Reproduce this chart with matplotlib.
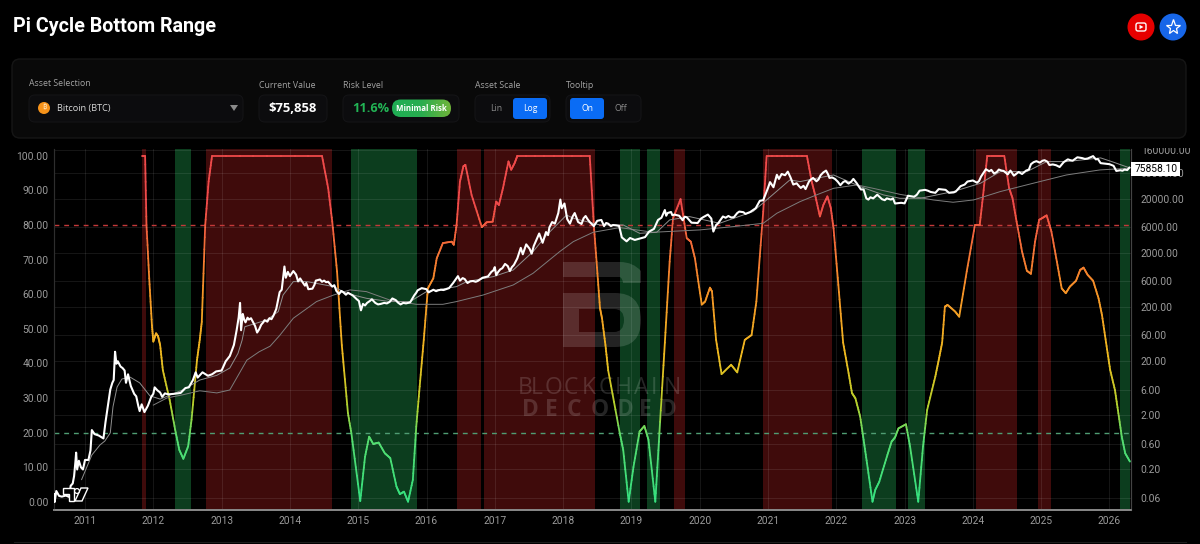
import matplotlib
matplotlib.use("Agg")
import matplotlib.pyplot as plt
import numpy as np
from matplotlib.collections import LineCollection
from matplotlib.colors import LinearSegmentedColormap
from matplotlib.patches import Circle, FancyBboxPatch, PathPatch, Polygon, Rectangle
from matplotlib.path import Path

plt.rcParams["font.family"] = ["Open Sans", "DejaVu Sans"]

YEAR_TICKS = list(range(2011, 2027))
RISK_TICKS = list(range(0, 101, 10))
PRICE_TICKS = [0.06, 0.2, 0.6, 2, 6, 20, 60, 200, 600, 2000, 6000, 20000, 60000, 160000]

RED_BANDS = [
    (2011.83, 2011.90), (2012.77, 2014.62), (2016.44, 2016.80), (2016.84, 2018.46),
    (2019.62, 2019.79), (2020.93, 2021.94), (2024.04, 2024.64), (2024.96, 2025.14),
]
GREEN_BANDS = [
    (2012.32, 2012.55), (2014.89, 2015.86), (2018.83, 2019.13), (2019.23, 2019.42),
    (2022.37, 2022.88), (2023.05, 2023.30), (2026.16, 2026.30),
]

# (year, risk %)
RISK = [
    (2011.83, 100), (2011.88, 100), (2011.90, 80), (2011.94, 64.6), (2011.98, 51), (2012.00, 46.3),
    (2012.04, 48.7), (2012.07, 47.8), (2012.10, 45.3), (2012.14, 38), (2012.24, 29.4), (2012.32, 20.8),
    (2012.38, 15), (2012.44, 12.4), (2012.51, 16), (2012.56, 23.7), (2012.64, 41), (2012.68, 46.8),
    (2012.71, 52), (2012.76, 80), (2012.81, 92.6), (2012.86, 100), (2014.47, 100), (2014.56, 90.7),
    (2014.62, 81), (2014.69, 66.6), (2014.76, 45.3), (2014.85, 25.6), (2014.90, 19.8), (2015.03, 0.2),
    (2015.10, 13), (2015.16, 18.8), (2015.22, 16.7), (2015.30, 17.1), (2015.39, 14), (2015.47, 12.6),
    (2015.56, 4.4), (2015.61, 2.2), (2015.67, 2.9), (2015.73, 0), (2015.80, 6.3), (2015.85, 21.7),
    (2015.90, 33.3), (2015.96, 46.8), (2016.02, 61.7), (2016.10, 64.6), (2016.15, 70.4), (2016.24, 74.8),
    (2016.37, 75.2), (2016.40, 74.3), (2016.44, 80), (2016.49, 92.6), (2016.54, 97), (2016.57, 97.4),
    (2016.66, 88.7), (2016.81, 79.4), (2016.88, 80.8), (2016.97, 81), (2017.02, 86.8), (2017.06, 85.8),
    (2017.12, 90.7), (2017.20, 98.4), (2017.24, 96), (2017.29, 97.9), (2017.33, 100), (2018.39, 100),
    (2018.45, 80), (2018.49, 69.4), (2018.54, 56), (2018.57, 53), (2018.62, 45.3), (2018.66, 38),
    (2018.83, 19.8), (2018.88, 15), (2018.96, 0), (2019.03, 10), (2019.12, 20.3), (2019.19, 21.9),
    (2019.25, 17.9), (2019.35, 0), (2019.41, 19.8), (2019.49, 46), (2019.56, 69.4), (2019.61, 82),
    (2019.72, 87.5), (2019.81, 76.2), (2019.87, 75.2), (2019.93, 70.4), (2020.03, 57), (2020.08, 57.9),
    (2020.15, 61.9), (2020.18, 60.8), (2020.24, 46.8), (2020.32, 36.9), (2020.46, 39.6), (2020.55, 37.4),
    (2020.66, 46.8), (2020.76, 48.2), (2020.83, 57.9), (2020.93, 83.9), (2020.98, 100), (2021.57, 100),
    (2021.64, 92.6), (2021.69, 88.7), (2021.76, 82.5), (2021.81, 85.8), (2021.87, 88.3), (2021.92, 84.9),
    (2021.96, 79), (2022.03, 62.7), (2022.10, 46), (2022.18, 37.2), (2022.23, 31.4), (2022.28, 29.9),
    (2022.35, 24.6), (2022.40, 17.9), (2022.45, 11.1), (2022.53, 0), (2022.57, 3.4), (2022.63, 5.8),
    (2022.74, 13), (2022.81, 17.4), (2022.86, 18.6), (2022.91, 21.2), (2023.02, 22.4), (2023.08, 16),
    (2023.20, 0), (2023.27, 16), (2023.33, 26.5), (2023.45, 36.2), (2023.50, 41), (2023.55, 46),
    (2023.59, 56.4), (2023.63, 56.9), (2023.74, 55), (2023.80, 53.5), (2023.91, 66.6), (2024.03, 80),
    (2024.10, 80), (2024.15, 88.7), (2024.21, 100), (2024.46, 100), (2024.53, 90.7), (2024.58, 87.8),
    (2024.64, 81), (2024.72, 72.3), (2024.79, 66.8), (2024.85, 65.9), (2024.91, 75.2), (2024.97, 81.5),
    (2025.03, 82.2), (2025.08, 82.8), (2025.15, 78.1), (2025.23, 69.4), (2025.30, 61.7), (2025.36, 60.3),
    (2025.42, 62.2), (2025.51, 63.9), (2025.57, 67), (2025.62, 67.7), (2025.68, 65.6), (2025.76, 63.9),
    (2025.84, 58.8), (2025.89, 54), (2025.95, 46), (2026.01, 38.1), (2026.08, 32.3), (2026.13, 25.6),
    (2026.18, 18.8), (2026.23, 14), (2026.30, 11.6),
]

# (year, USD)
PRICE = [
    (2010.55, 0.07), (2010.555, 0.05), (2010.58, 0.08), (2010.62, 0.065), (2010.66, 0.063), (2010.72, 0.066),
    (2010.77, 0.062), (2010.79, 0.1), (2010.82, 0.11), (2010.84, 0.15), (2010.86, 0.28), (2010.87, 0.41),
    (2010.885, 0.2), (2010.91, 0.29), (2010.94, 0.22), (2010.97, 0.2), (2011.0, 0.3), (2011.05, 0.3),
    (2011.08, 0.45), (2011.10, 1.07), (2011.14, 0.9), (2011.2, 0.85), (2011.27, 0.75), (2011.30, 1.5),
    (2011.37, 6), (2011.40, 8), (2011.42, 9), (2011.44, 30), (2011.46, 18), (2011.48, 20), (2011.52, 16),
    (2011.55, 15), (2011.58, 13.5), (2011.60, 8), (2011.63, 11.5), (2011.67, 7), (2011.72, 5), (2011.75, 4.5),
    (2011.78, 3), (2011.80, 2.4), (2011.83, 3.2), (2011.87, 2.3), (2011.92, 3), (2011.97, 4.4), (2012.0, 5),
    (2012.02, 6.6), (2012.06, 5.8), (2012.1, 5.3), (2012.13, 4.4), (2012.17, 5.1), (2012.22, 4.9), (2012.3, 5),
    (2012.4, 5.2), (2012.47, 6.4), (2012.52, 6.6), (2012.58, 9), (2012.62, 12.5), (2012.65, 10), (2012.72, 12.5),
    (2012.8, 10.8), (2012.86, 11.5), (2012.92, 13), (2013.0, 13.5), (2013.06, 20), (2013.12, 25), (2013.18, 40),
    (2013.22, 75), (2013.25, 130), (2013.27, 240), (2013.285, 75), (2013.31, 150), (2013.33, 118), (2013.35, 105),
    (2013.38, 128), (2013.40, 118), (2013.43, 125), (2013.45, 112), (2013.49, 90), (2013.52, 68), (2013.55, 78), (2013.58, 95),
    (2013.61, 105), (2013.63, 115), (2013.67, 108), (2013.7, 125), (2013.73, 120), (2013.76, 140), (2013.8, 185), (2013.85, 380),
    (2013.88, 420), (2013.92, 1130), (2013.94, 700), (2013.97, 900), (2014.0, 750), (2014.03, 850), (2014.05, 930), (2014.09, 800),
    (2014.12, 600), (2014.15, 680), (2014.17, 620), (2014.22, 500), (2014.24, 560), (2014.27, 430), (2014.33, 440), (2014.36, 520),
    (2014.38, 620), (2014.44, 650), (2014.47, 590), (2014.5, 620), (2014.53, 580), (2014.56, 590), (2014.62, 480), (2014.65, 510),
    (2014.68, 400), (2014.72, 350), (2014.75, 400), (2014.78, 380), (2014.82, 340), (2014.85, 370), (2014.92, 330), (2014.98, 280),
    (2015.01, 260), (2015.04, 175), (2015.07, 230), (2015.10, 215), (2015.13, 240), (2015.17, 260), (2015.2, 280), (2015.25, 240),
    (2015.29, 225), (2015.33, 230), (2015.38, 240), (2015.42, 235), (2015.46, 250), (2015.5, 290), (2015.55, 270), (2015.58, 245),
    (2015.62, 225), (2015.66, 240), (2015.7, 235), (2015.76, 245), (2015.82, 330), (2015.85, 370), (2015.87, 410), (2015.93, 450),
    (2016.0, 430), (2016.03, 375), (2016.07, 400), (2016.1, 420), (2016.14, 395), (2016.17, 410), (2016.21, 420), (2016.25, 415),
    (2016.33, 450), (2016.39, 560), (2016.46, 750), (2016.49, 620), (2016.53, 690), (2016.56, 660), (2016.6, 560), (2016.64, 600),
    (2016.68, 610), (2016.72, 590), (2016.75, 610), (2016.82, 700), (2016.9, 740), (2016.95, 900), (2016.98, 960),
    (2017.0, 1100), (2017.02, 780), (2017.05, 900), (2017.08, 1000), (2017.11, 1050), (2017.15, 1260), (2017.19, 1150), (2017.22, 930),
    (2017.25, 1100), (2017.28, 1210), (2017.33, 1600), (2017.38, 2500), (2017.41, 1900), (2017.46, 2900), (2017.51, 2400), (2017.54, 1950),
    (2017.57, 2700), (2017.6, 3300), (2017.65, 4600), (2017.7, 3100), (2017.75, 4900), (2017.78, 4300), (2017.8, 6000), (2017.84, 7500),
    (2017.88, 7000), (2017.93, 11000), (2017.96, 19500), (2017.98, 13500), (2018.02, 16500), (2018.06, 8500), (2018.1, 7000), (2018.14, 9500),
    (2018.17, 11000), (2018.22, 7500), (2018.27, 6900), (2018.30, 8800), (2018.33, 9700), (2018.36, 8400), (2018.39, 7500), (2018.45, 6300),
    (2018.5, 7900), (2018.56, 8200), (2018.6, 6300), (2018.63, 7200), (2018.66, 7000), (2018.7, 6300), (2018.73, 6600), (2018.78, 6500),
    (2018.82, 6350), (2018.86, 3900), (2018.93, 3300), (2018.98, 3800), (2019.05, 3500), (2019.12, 3700), (2019.2, 3950), (2019.26, 5000),
    (2019.33, 5600), (2019.39, 8200), (2019.44, 9000), (2019.49, 12500), (2019.51, 9800), (2019.53, 11000), (2019.58, 11500), (2019.6, 10000),
    (2019.63, 10300), (2019.7, 9800), (2019.75, 8100), (2019.78, 9400), (2019.81, 9200), (2019.88, 7300),
    (2019.97, 7200), (2020.02, 8700), (2020.05, 9200), (2020.12, 10300), (2020.17, 8700), (2020.2, 5000), (2020.24, 6600), (2020.27, 7100),
    (2020.34, 9500), (2020.38, 9000), (2020.42, 9700), (2020.46, 9100), (2020.5, 9200), (2020.55, 11000), (2020.58, 11700), (2020.64, 11400),
    (2020.67, 10600), (2020.74, 11500), (2020.82, 13500), (2020.88, 18500), (2020.93, 19000), (2021.0, 32000), (2021.03, 41000), (2021.08, 33000),
    (2021.13, 56000), (2021.16, 47000), (2021.2, 58000), (2021.25, 55000), (2021.29, 64000), (2021.33, 50000), (2021.37, 37000), (2021.42, 39000),
    (2021.45, 35000), (2021.48, 32000), (2021.52, 35000), (2021.55, 30500), (2021.6, 42000), (2021.63, 46000), (2021.66, 49000), (2021.71, 42500),
    (2021.74, 46000), (2021.77, 55000), (2021.81, 62000), (2021.85, 67000), (2021.88, 57000), (2021.9, 49000), (2021.94, 50000), (2021.98, 47000),
    (2022.02, 42000), (2022.06, 36000), (2022.1, 41000), (2022.13, 43000), (2022.18, 38500), (2022.22, 42000), (2022.25, 47000), (2022.3, 39000),
    (2022.33, 34000), (2022.36, 30000), (2022.4, 30000), (2022.44, 20500), (2022.47, 19500), (2022.5, 21500), (2022.54, 20500), (2022.6, 24000),
    (2022.64, 21500), (2022.67, 19800), (2022.71, 19000), (2022.74, 20500), (2022.8, 19500), (2022.83, 20500), (2022.86, 16500), (2022.95, 17000),
    (2023.0, 16600), (2023.05, 23000), (2023.09, 22500), (2023.14, 22000), (2023.18, 24000), (2023.22, 28500), (2023.3, 29500), (2023.34, 28500),
    (2023.38, 27000), (2023.45, 26000), (2023.5, 30500), (2023.55, 30000), (2023.6, 29500), (2023.65, 26000), (2023.72, 26500), (2023.75, 27500),
    (2023.82, 34500), (2023.88, 37000), (2023.92, 42000), (2024.0, 44000), (2024.06, 40000), (2024.09, 43000), (2024.12, 52000), (2024.16, 62000),
    (2024.19, 71000), (2024.24, 65000), (2024.27, 69000), (2024.31, 59000), (2024.35, 63000), (2024.38, 70000), (2024.42, 67000), (2024.45, 66000),
    (2024.51, 57000), (2024.55, 67000), (2024.6, 54000), (2024.64, 59000), (2024.67, 63000), (2024.72, 58000), (2024.78, 67000), (2024.82, 70000),
    (2024.85, 88000), (2024.89, 96000), (2024.93, 100000), (2024.98, 94000), (2025.02, 102000), (2025.05, 104000), (2025.09, 98000), (2025.12, 85000),
    (2025.17, 87000), (2025.22, 84000), (2025.27, 78000), (2025.33, 96000), (2025.39, 108000), (2025.43, 104000), (2025.46, 102000), (2025.53, 118000),
    (2025.57, 116000), (2025.6, 114000), (2025.64, 110000), (2025.68, 112000), (2025.72, 118000), (2025.76, 124000), (2025.8, 108000), (2025.83, 110000),
    (2025.87, 92000), (2025.93, 90000), (2026.0, 88000), (2026.06, 82000), (2026.1, 66000), (2026.16, 68000), (2026.19, 66500), (2026.22, 70000),
    (2026.26, 68500), (2026.29, 75858),
]

SMA_FAST = [
    (2010.95, 0.13), (2011.10, 0.37), (2011.22, 0.57), (2011.29, 0.67), (2011.37, 0.95), (2011.41, 2.9), (2011.47, 6.7),
    (2011.54, 9.4), (2011.66, 10.2), (2011.80, 8), (2011.95, 4.6), (2012.10, 4), (2012.43, 5.9), (2012.68, 9), (2012.93, 11),
    (2013.12, 15), (2013.24, 28), (2013.30, 49), (2013.34, 87), (2013.66, 116), (2013.83, 166), (2013.90, 336), (2014.05, 594),
    (2014.25, 594), (2014.64, 480), (2014.83, 361), (2015.12, 292), (2015.46, 254), (2015.76, 254), (2016.00, 388), (2016.44, 480),
    (2016.59, 594), (2016.98, 735), (2017.27, 975), (2017.56, 2130), (2017.76, 4320), (2018.05, 10100), (2018.15, 8800), (2018.54, 6620),
    (2018.88, 6620), (2019.12, 4640), (2019.37, 4850), (2019.56, 8200), (2019.85, 9450), (2020.29, 7110), (2020.78, 11700), (2020.98, 19200),
    (2021.32, 45000), (2021.47, 41900), (2021.71, 48300), (2021.96, 55600), (2022.35, 33900), (2022.69, 23800), (2022.93, 20600), (2023.23, 20600),
    (2023.71, 27400), (2024.11, 39000), (2024.40, 64100), (2024.79, 64100), (2025.08, 98200), (2025.37, 98200), (2025.87, 115000), (2026.05, 96600),
    (2026.30, 74800),
]

SMA_SLOW = [
    (2012.00, 3.1), (2012.20, 4.2), (2012.43, 4.8), (2012.68, 5.7), (2012.93, 5.2), (2013.12, 5.9), (2013.37, 21), (2013.55, 30),
    (2013.71, 38), (2013.85, 60), (2014.05, 125), (2014.39, 254), (2014.64, 336), (2014.88, 417), (2015.12, 388), (2015.46, 272),
    (2015.61, 254), (2015.85, 226), (2016.24, 226), (2016.44, 254), (2016.83, 336), (2017.27, 515), (2017.56, 847), (2017.95, 2130),
    (2018.15, 3260), (2018.44, 4850), (2018.83, 5920), (2019.32, 4850), (2020.00, 5360), (2020.49, 6170), (2020.93, 7110), (2021.13, 10900),
    (2021.47, 17900), (2021.71, 23800), (2021.96, 31500), (2022.30, 36400), (2022.54, 31500), (2022.93, 24400), (2023.42, 19200), (2023.71, 17400),
    (2024.01, 19200), (2024.40, 27400), (2024.88, 39000), (2025.37, 55600), (2025.86, 68900), (2026.27, 73900),
]

BRAND_WORDS = [
    ("BLOCKCHAIN", 388, "normal", [525, 537, 553, 571, 589, 606, 623, 641, 654, 672]),
    ("DECODED", 410, "bold", [530, 551, 574, 600, 625, 645, 668]),
]


def draw_risk_line(ax):
    # colour follows the risk level, so each leg is split to keep the gradient smooth
    risk_cmap = LinearSegmentedColormap.from_list(
        "risk",
        [(0.0, "#35e07f"), (0.18, "#55dd70"), (0.28, "#b5d02c"), (0.42, "#eeba1f"),
         (0.62, "#f59027"), (0.76, "#f4683a"), (0.86, "#ef4a4a"), (1.0, "#ef4a4a")],
    )
    years = np.array([p[0] for p in RISK])
    values = np.array([p[1] for p in RISK])
    segments, colours = [], []
    for i in range(len(years) - 1):
        steps = np.linspace(0, 1, 9)
        xs = years[i] + (years[i + 1] - years[i]) * steps
        ys = values[i] + (values[i + 1] - values[i]) * steps
        for j in range(8):
            segments.append([(xs[j], ys[j]), (xs[j + 1], ys[j + 1])])
            colours.append((ys[j] + ys[j + 1]) / 200)
    lines = LineCollection(segments, cmap=risk_cmap, linewidths=1.3, zorder=4, capstyle="round")
    lines.set_array(np.array(colours))
    lines.set_clim(0, 1)
    ax.add_collection(lines)


def draw_watermark(ax, px):
    top = Path(
        [(565, 262), (620, 262), (633, 262), (641, 271), (641, 283), (623, 283), (623, 279), (620, 277), (565, 277),
         (563, 277), (563, 262), (565, 262)],
        [Path.MOVETO, Path.LINETO, Path.CURVE3, Path.CURVE3, Path.LINETO, Path.LINETO, Path.CURVE3, Path.CURVE3,
         Path.LINETO, Path.LINETO, Path.LINETO, Path.CLOSEPOLY],
    )
    body = Path(
        [(563, 293), (615, 293), (641, 293), (641, 320), (641, 347), (615, 347), (563, 347), (563, 293),
         (579, 309), (579, 332), (614, 332), (624, 332), (624, 320), (624, 309), (614, 309), (579, 309)],
        [Path.MOVETO, Path.LINETO, Path.CURVE3, Path.CURVE3, Path.CURVE3, Path.CURVE3, Path.LINETO, Path.CLOSEPOLY,
         Path.MOVETO, Path.LINETO, Path.LINETO, Path.CURVE3, Path.CURVE3, Path.CURVE3, Path.CURVE3, Path.CLOSEPOLY],
    )
    for shape in (top, body):
        ax.add_patch(PathPatch(shape, facecolor="white", edgecolor="none", alpha=0.14, transform=px, zorder=3, clip_on=False))
    for word, y, weight, centres in BRAND_WORDS:
        for letter, x in zip(word, centres):
            ax.text(x, y, letter, color="white", alpha=0.15, fontsize=16.5, fontweight=weight, ha="center",
                    va="center", transform=px, zorder=3, clip_on=False)


def draw_header(ui):
    ui.text(13, 27, "Pi Cycle Bottom Range", color="white", fontsize=14.2, fontweight="bold", va="center", family="Roboto")
    ui.add_patch(Circle((1141, 27), 13.5, facecolor="#e60000", edgecolor="none"))
    ui.add_patch(Circle((1173, 27), 13.5, facecolor="#1766e8", edgecolor="none"))
    ui.add_patch(FancyBboxPatch((1136, 23), 10, 8, boxstyle="round,pad=0,rounding_size=2", facecolor="none", edgecolor="white", linewidth=1))
    ui.add_patch(Polygon([(1139.5, 24.8), (1139.5, 29.2), (1143.5, 27)], facecolor="white", edgecolor="none"))
    ui.plot([1173], [26.6], marker="*", markersize=11, markerfacecolor="none", markeredgecolor="white", markeredgewidth=0.9)

    ui.add_patch(FancyBboxPatch((12, 59), 1174, 79, boxstyle="round,pad=0,rounding_size=8", facecolor="#090909", edgecolor="#161616", linewidth=1))
    boxes = [(29, 214), (259, 68), (343, 116), (475, 75), (566, 75)]
    for x, w in boxes:
        ui.add_patch(FancyBboxPatch((x, 95), w, 27, boxstyle="round,pad=0,rounding_size=6", facecolor="#0c0c0e", edgecolor="#141416", linewidth=0.8))

    label_style = dict(color="#a3a3a3", fontsize=6.3, va="center")
    ui.text(29, 83, "Asset Selection", **label_style)
    ui.text(259, 86, "Current Value", **label_style)
    ui.text(343, 86, "Risk Level", **label_style)
    ui.text(475, 86, "Asset Scale", **label_style)
    ui.text(566, 86, "Tooltip", **label_style)

    ui.add_patch(Circle((44, 108), 6, facecolor="#f7931a", edgecolor="none"))
    ui.text(44, 108, "\u20bf", color="#ffe2b8", fontsize=5.5, ha="center", va="center",
            family=["Noto Sans", "Roboto", "Inter", "Lato", "Liberation Sans", "DejaVu Sans"])
    ui.text(57, 108.5, "Bitcoin (BTC)", color="#d8d8d8", fontsize=6.6, va="center")
    ui.add_patch(Polygon([(230, 105), (238, 105), (234, 111)], facecolor="#8a8a8a", edgecolor="none"))
    ui.text(293, 109, "$75,858", color="white", fontsize=9.4, fontweight="bold", ha="center", va="center")
    ui.text(352, 109, "11.6%", color="#22b455", fontsize=9.2, fontweight="bold", va="center")

    pill = FancyBboxPatch((392, 99.5), 59, 17.5, boxstyle="round,pad=0,rounding_size=8.7", facecolor="none", edgecolor="none")
    ui.add_patch(pill)
    shade = ui.imshow(np.linspace(0, 1, 64)[None, :], extent=(392, 451, 117, 99.5), aspect="auto", zorder=2.5,
                      cmap=LinearSegmentedColormap.from_list("pill", ["#1fae55", "#29ad4f", "#6fb43a"]))
    shade.set_clip_path(pill)
    ui.set_xlim(0, 1200)
    ui.set_ylim(544, 0)
    ui.text(421.5, 108.5, "Minimal Risk", color="white", fontsize=5.7, fontweight="bold", ha="center", va="center")

    for x, w, text in ((513, 34, "Log"), (570, 34, "On")):
        ui.add_patch(FancyBboxPatch((x, 98), w, 21, boxstyle="round,pad=0,rounding_size=3", facecolor="#0a6cf5", edgecolor="none"))
        ui.text(x + w / 2, 108.5, text, color="white", fontsize=6.2, ha="center", va="center")
    ui.text(496, 108.5, "Lin", color="#8a8a8a", fontsize=6.2, ha="center", va="center")
    ui.text(621, 108.5, "Off", color="#8a8a8a", fontsize=6.2, ha="center", va="center")

    # the right scale's top label is cut by the panel above the chart
    ui.add_patch(Rectangle((1132, 139), 68, 8.5, facecolor="black", edgecolor="none"))
    ui.add_patch(Rectangle((1131, 162), 49, 14, facecolor="white", edgecolor="none", zorder=3))
    ui.text(1156.5, 169, f"{PRICE[-1][1] + 0.10:.2f}", color="black", fontsize=7.4, ha="center", va="center", family="Roboto", zorder=4)

    ui.plot([14, 1186], [541.5, 541.5], color="#1c1c1c", linewidth=0.8)


def main():
    fig = plt.figure(figsize=(12, 5.44), dpi=100, facecolor="black")
    ax = fig.add_axes([54 / 1200, 1 - 510 / 544, (1131 - 54) / 1200, (510 - 149) / 544], facecolor="black")
    ax2 = ax.twinx()
    ui = fig.add_axes([0, 0, 1, 1], zorder=5)
    ui.set_xlim(0, 1200)
    ui.set_ylim(544, 0)
    ui.axis("off")

    for start, end in RED_BANDS:
        ax.axvspan(start, end, facecolor="#3f0b0b", edgecolor="none", zorder=1)
    for start, end in GREEN_BANDS:
        ax.axvspan(start, end, facecolor="#0c3d1e", edgecolor="none", zorder=1)

    ax.axhline(80, color="#c43a3a", linewidth=1.0, dashes=(3.5, 3.5), zorder=3)
    ax.axhline(20, color="#4f9d73", linewidth=1.0, dashes=(3.5, 3.5), zorder=3)
    draw_watermark(ax, ui.transData)
    draw_risk_line(ax)

    ax2.plot(*zip(*SMA_SLOW), color="#7d7d7d", linewidth=0.7, zorder=3)
    ax2.plot(*zip(*SMA_FAST), color="#8f8f8f", linewidth=0.7, zorder=3)
    ax2.plot(*zip(*PRICE), color="white", linewidth=1.5, zorder=4, solid_joinstyle="round")

    ax.set_xlim(2010.546, 2026.315)
    ax.set_ylim(-2.4, 102.0)
    ax.set_xticks(YEAR_TICKS)
    ax.set_yticks(RISK_TICKS)
    ax.set_yticklabels([f"{v:.2f}" for v in RISK_TICKS])
    ax.grid(axis="x", color="#ffffff", alpha=0.09, linewidth=0.7)
    ax.tick_params(axis="y", length=0, labelcolor="#9b9b9b", labelsize=7.4, pad=4)
    ax.tick_params(axis="x", length=0, labelcolor="#9b9b9b", labelsize=7.4, pad=4.5)

    ax2.set_yscale("log")
    ax2.set_ylim(0.03565, 167900)
    ax2.set_yticks(PRICE_TICKS)
    ax2.set_yticklabels([f"{v:.2f}" for v in PRICE_TICKS])
    ax2.minorticks_off()
    ax2.grid(axis="y", color="#ffffff", alpha=0.09, linewidth=0.7)
    ax2.tick_params(axis="y", length=0, labelcolor="#9b9b9b", labelsize=7.4, pad=7)

    for axis in (ax, ax2):
        for label in axis.get_xticklabels() + axis.get_yticklabels():
            label.set_family("Roboto")
        axis.spines["top"].set_visible(False)
        axis.spines["left"].set_color("#2e2e2e")
        axis.spines["right"].set_color("#444444")
        axis.spines["bottom"].set_color("#8a8a8a")
        axis.spines["bottom"].set_linewidth(1.2)

    draw_header(ui)

    # TradingView mark in the chart's lower left corner
    for shape in ([(63, 488), (74, 488), (74, 501), (69, 501), (69, 494), (63, 494)],
                  [(81, 488), (88, 488), (82, 501), (75, 501)]):
        ui.add_patch(Polygon(shape, facecolor="black", edgecolor="white", linewidth=1))
    ui.add_patch(Circle((77, 491), 2.4, facecolor="black", edgecolor="white", linewidth=0.9))

    fig.savefig("out.png", dpi=100, facecolor="black")


if __name__ == "__main__":
    main()
